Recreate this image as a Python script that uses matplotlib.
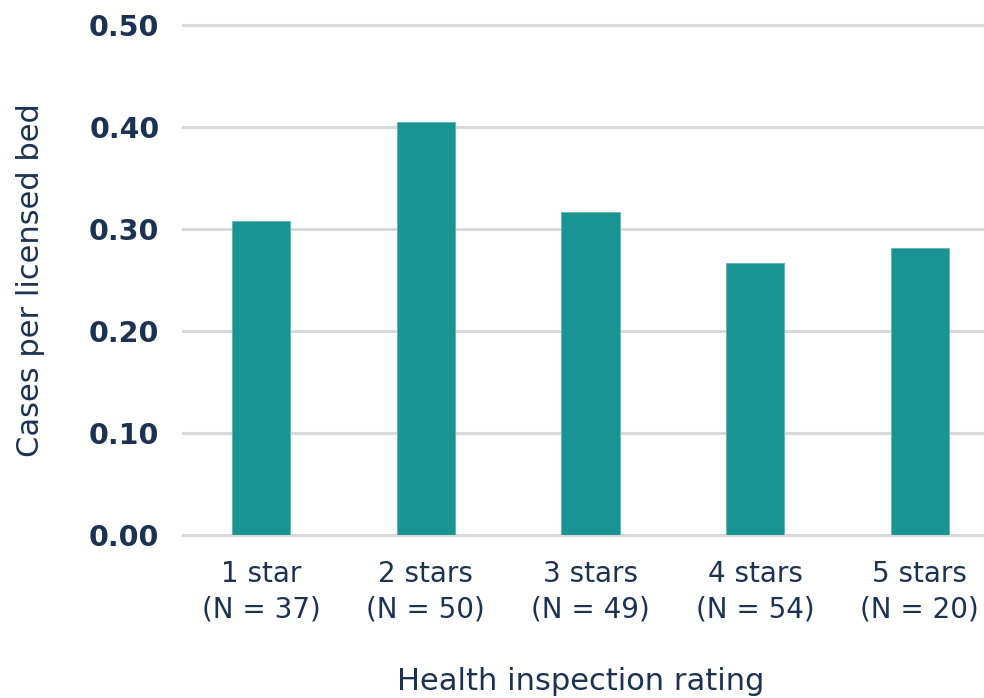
import matplotlib
matplotlib.use("Agg")
import matplotlib.pyplot as plt
import numpy as np

TEAL = "#1a9393"
NAVY = "#1b3252"
GRID = "#d9d9d9"

ratings = ["1 star", "2 stars", "3 stars", "4 stars", "5 stars"]
n_facilities = [37, 50, 49, 54, 20]
cases_per_bed = [0.308, 0.405, 0.317, 0.267, 0.281]
yticks = [0.0, 0.1, 0.2, 0.3, 0.4, 0.5]

plt.rcParams["font.family"] = ["DejaVu Sans"]

fig = plt.figure(figsize=(9.84, 6.98), dpi=100)
ax = fig.add_axes([0.186, 0.2335, 0.814, 0.731])

x = np.arange(len(ratings))
ax.bar(x, cases_per_bed, 0.355, color=TEAL, edgecolor="#5fb5b5", linewidth=0.6, zorder=3)

ax.set_xlim(-0.475, 4.39)
ax.set_ylim(0, 0.5)
ax.set_yticks(yticks)
ax.set_yticklabels([f"{v:.2f}" for v in yticks], fontsize=20.5, fontweight="bold", color=NAVY)
ax.set_xticks(x)
ax.set_xticklabels([f"{r}\n(N = {n})" for r, n in zip(ratings, n_facilities)],
                   fontsize=20, color=NAVY, linespacing=1.35)
ax.tick_params(axis="both", length=0)
ax.tick_params(axis="y", pad=17)
ax.tick_params(axis="x", pad=18)

ax.grid(True, axis="y", color=GRID, lw=2.2, zorder=0)
ax.set_axisbelow(True)
for s in ax.spines.values():
    s.set_visible(False)
for g in ax.get_ygridlines():
    g.set_clip_on(False)

ax.set_ylabel("Cases per licensed bed", fontsize=22, color=NAVY)
ax.set_xlabel("Health inspection rating", fontsize=22, color=NAVY)
ax.yaxis.set_label_coords(-0.172, 0.5)
ax.xaxis.set_label_coords(0.497, -0.259)

fig.savefig("out.png", dpi=100)
